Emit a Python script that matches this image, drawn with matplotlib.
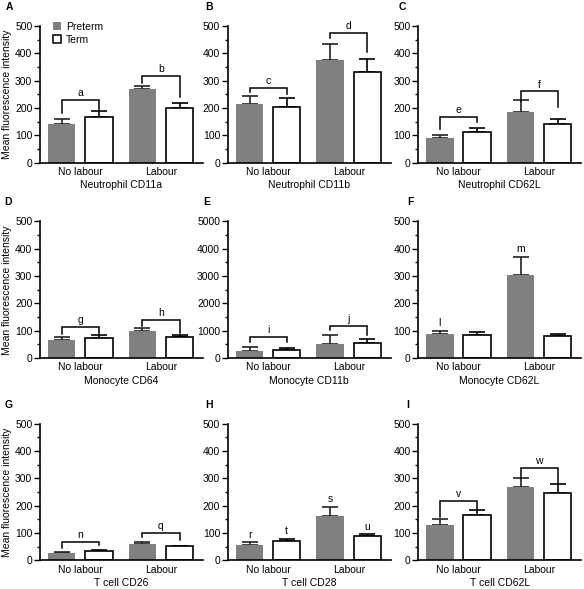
import matplotlib
matplotlib.use("Agg")
import matplotlib.pyplot as plt
import numpy as np
from matplotlib.patches import Patch

plt.rcParams["font.family"] = ["Liberation Sans", "DejaVu Sans"]
plt.rcParams["font.size"] = 7.5

GREY = "#808080"

# -----------------------------------------------------------
# Data (mean + upper SEM)
# -----------------------------------------------------------
groups = ["No labour", "Labour"]
letters = ["A", "B", "C", "D", "E", "F", "G", "H", "I"]
titles = ["Neutrophil CD11a", "Neutrophil CD11b", "Neutrophil CD62L",
          "Monocyte CD64", "Monocyte CD11b", "Monocyte CD62L",
          "T cell CD26", "T cell CD28", "T cell CD62L"]
ymax = [500, 500, 500, 500, 5000, 500, 500, 500, 500]

preterm = [[140, 270], [214, 376], [90, 186],
           [65, 101], [277, 530], [87, 303],
           [28, 61], [56, 162], [130, 267]]
preterm_err = [[20, 10], [29, 58], [10, 42],
               [12, 8], [121, 313], [11, 68],
               [4, 6], [10, 33], [23, 35]]
term = [[165, 198], [202, 333], [111, 140],
        [74, 77], [300, 554], [85, 80],
        [34, 51], [70, 90], [165, 245]]
term_err = [[25, 20], [35, 45], [16, 18],
            [9, 9], [86, 133], [12, 10],
            [6, 2], [7, 8], [18, 35]]

# brackets: (group, height, left leg end, right leg end, label)
brackets = [
    [(0, 230, 182, 192, "a"), (1, 318, 292, 240, "b")],
    [(0, 273, 259, 251, "c"), (1, 474, 455, 406, "d")],
    [(0, 168, 123, 147, "e"), (1, 261, 226, 202, "f")],
    [(0, 114, 89, 89, "g"), (1, 140, 117, 93, "h")],
    [(0, 783, 602, 602, "i"), (1, 1180, 1024, 843, "j")],
    [],
    [(0, 69, 45, 56, "n"), (1, 102, 84, 73, "q")],
    [],
    [(0, 217, 160, 187, "v"), (1, 339, 303, 282, "w")],
]
# single letters over bars: (group, series 0=preterm 1=term, y, label)
bar_labels = [[], [], [], [], [],
              [(0, 0, 130, "l"), (1, 0, 398, "m")],
              [],
              [(0, 0, 94, "r"), (0, 1, 106, "t"), (1, 0, 224, "s"), (1, 1, 124, "u")],
              []]

# -----------------------------------------------------------
fig = plt.figure(figsize=(5.84, 5.89), dpi=100)
lefts = [0.0685, 0.390, 0.716]
bottoms = [0.724, 0.392, 0.0485]
W, H = 0.279, 0.232
letter_x = [-0.21, -0.14, -0.12, -0.22, -0.15, -0.065, -0.22, -0.14, -0.07]

x = np.arange(len(groups))
off, bw = 0.23, 0.34

for k in range(9):
    r, c = divmod(k, 3)
    ax = fig.add_axes([lefts[c], bottoms[r], W, H])
    lw = 1.2
    ax.bar(x - off, preterm[k], bw, color=GREY, edgecolor="none", zorder=2)
    ax.bar(x + off, term[k], bw, color="white", edgecolor="black",
           linewidth=lw, zorder=2)
    ax.errorbar(x - off, preterm[k], yerr=[np.zeros(2), preterm_err[k]],
                fmt="none", ecolor="#222222", elinewidth=lw, capsize=5.5,
                capthick=lw, zorder=1)
    ax.errorbar(x + off, term[k], yerr=[np.zeros(2), term_err[k]],
                fmt="none", ecolor="black", elinewidth=lw, capsize=5.5,
                capthick=lw, zorder=1)

    for g, yb, yl, yr, lab in brackets[k]:
        xl, xr = g - off, g + off
        ax.plot([xl, xl, xr, xr], [yl, yb, yb, yr], color="black",
                linewidth=1.1, solid_joinstyle="miter", zorder=3)
        ax.text(g, yb + ymax[k] * 0.012, lab, ha="center", va="bottom",
                fontsize=7.5)
    for g, s, yy, lab in bar_labels[k]:
        ax.text(g + (off if s else -off), yy, lab, ha="center",
                va="center", fontsize=7.5)

    ax.set_xlim(-0.5, 1.52)
    ax.set_ylim(0, ymax[k])
    step = ymax[k] / 5
    ax.set_yticks(np.arange(0, ymax[k] + 1, step))
    ax.set_yticks(np.arange(step / 2, ymax[k], step), minor=True)
    ax.set_xticks(x)
    ax.set_xticklabels(groups)
    ax.tick_params(axis="x", length=0, pad=3, labelsize=7.5)
    ax.tick_params(axis="y", which="major", length=4, width=1, labelsize=7.5, pad=1.5)
    ax.tick_params(axis="y", which="minor", length=2.5, width=1)
    for sp in ["top", "right"]:
        ax.spines[sp].set_visible(False)
    for sp in ["left", "bottom"]:
        ax.spines[sp].set_linewidth(1.2)
    ax.set_xlabel(titles[k], fontsize=7.5, labelpad=2.5)
    if c == 0:
        ax.set_ylabel("Mean fluorescence intensity", fontsize=7.5, labelpad=2)
    ax.text(letter_x[k], 1.14, letters[k], transform=ax.transAxes,
            fontsize=7.5, fontweight="bold", va="center", ha="left")

    if k == 0:
        handles = [Patch(facecolor=GREY, edgecolor="none", label="Preterm"),
                   Patch(facecolor="white", edgecolor="black", linewidth=1.1, label="Term")]
        ax.legend(handles=handles, loc="upper left", bbox_to_anchor=(0.02, 1.1),
                  frameon=False, handlelength=0.8, handleheight=0.8,
                  handletextpad=0.5, labelspacing=0.3, fontsize=7.5)

fig.savefig("out.png", dpi=100)
